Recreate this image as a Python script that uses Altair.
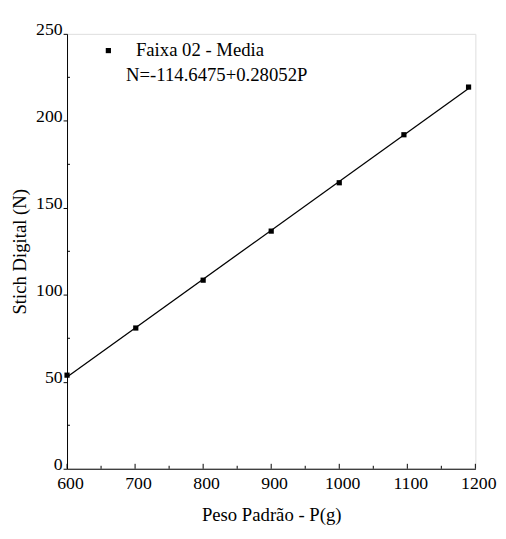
import altair as alt
import pandas as pd

peso = [600, 701, 800, 900, 1000, 1095, 1190]
stich = [53.8, 80.9, 108.4, 136.6, 164.4, 192.0, 219.4]
x_ticks = [600, 700, 800, 900, 1000, 1100, 1200]
y_ticks = [0, 50, 100, 150, 200, 250]
x_minor = [650, 750, 850, 950, 1050, 1150]
y_minor = [25, 75, 125, 175, 225]
legend_label = "Faixa 02 - Media"
equation = "N=-114.6475+0.28052P"

df = pd.DataFrame({"P": peso, "N": stich})
W, H = 415, 442
FONT = "Liberation Serif"

xs = alt.Scale(domain=[600, 1200], nice=False, zero=False)
ys = alt.Scale(domain=[0, 250], nice=False)

xax = alt.Axis(values=x_ticks, format="d", title="Peso Padrão - P(g)", grid=False, tickSize=0,
               labelFont=FONT, labelFontSize=18, titleFont=FONT, titleFontSize=19,
               titleFontWeight="normal", labelPadding=6, labelOffset=3, titlePadding=14,
               domainColor="black", labelColor="black", titleColor="black",
               labelFlush=False)
yax = alt.Axis(values=y_ticks, format="d", title="Stich Digital (N)", grid=False, tickSize=4,
               labelFont=FONT, labelFontSize=18, titleFont=FONT, titleFontSize=19,
               titleFontWeight="normal", labelPadding=1, labelOffset=-4, titlePadding=6,
               domainColor="black", tickColor="black", labelColor="black",
               titleColor="black", labelFlush=False)

base = alt.Chart(df)

pts = base.mark_square(color="black", size=28, opacity=1).encode(
    x=alt.X("P:Q", scale=xs, axis=xax),
    y=alt.Y("N:Q", scale=ys, axis=yax),
)

fit = base.transform_regression("P", "N").mark_line(color="black", strokeWidth=1.3).encode(
    x=alt.X("P:Q", scale=xs),
    y=alt.Y("N:Q", scale=ys),
)

# inward x ticks
xt = alt.Chart(pd.DataFrame({"t": x_ticks})).mark_rule(color="black", strokeWidth=1).encode(
    x=alt.X("t:Q", scale=xs),
    y=alt.value(H),
    y2=alt.value(H - 5),
)
xm = alt.Chart(pd.DataFrame({"t": x_minor})).mark_rule(color="black", strokeWidth=1).encode(
    x=alt.X("t:Q", scale=xs),
    y=alt.value(H),
    y2=alt.value(H - 3),
)
ym = alt.Chart(pd.DataFrame({"t": y_minor})).mark_rule(color="black", strokeWidth=1).encode(
    y=alt.Y("t:Q", scale=ys),
    x=alt.value(0),
    x2=alt.value(3),
)

leg_df = pd.DataFrame({"a": [legend_label], "b": [equation]})
leg_mark = alt.Chart(leg_df).mark_square(color="black", size=28, opacity=1).encode(
    x=alt.value(42), y=alt.value(17))
leg_t1 = alt.Chart(leg_df).mark_text(align="left", baseline="middle", font=FONT,
                                     fontSize=19, color="black").encode(
    x=alt.value(70), y=alt.value(17), text="a:N")
leg_t2 = alt.Chart(leg_df).mark_text(align="left", baseline="middle", font=FONT,
                                     fontSize=19, color="black").encode(
    x=alt.value(60), y=alt.value(42), text="b:N")

chart = alt.layer(fit, pts, xt, xm, ym, leg_mark, leg_t1, leg_t2).properties(
    width=W, height=H,
    autosize=alt.AutoSizeParams(type="none"),
    padding={"left": 60, "top": 22, "right": 23, "bottom": 59},
).configure_view(stroke=None).configure(background="white", font=FONT)

chart.save("out.html", embed_options={"renderer": "svg", "actions": False})
